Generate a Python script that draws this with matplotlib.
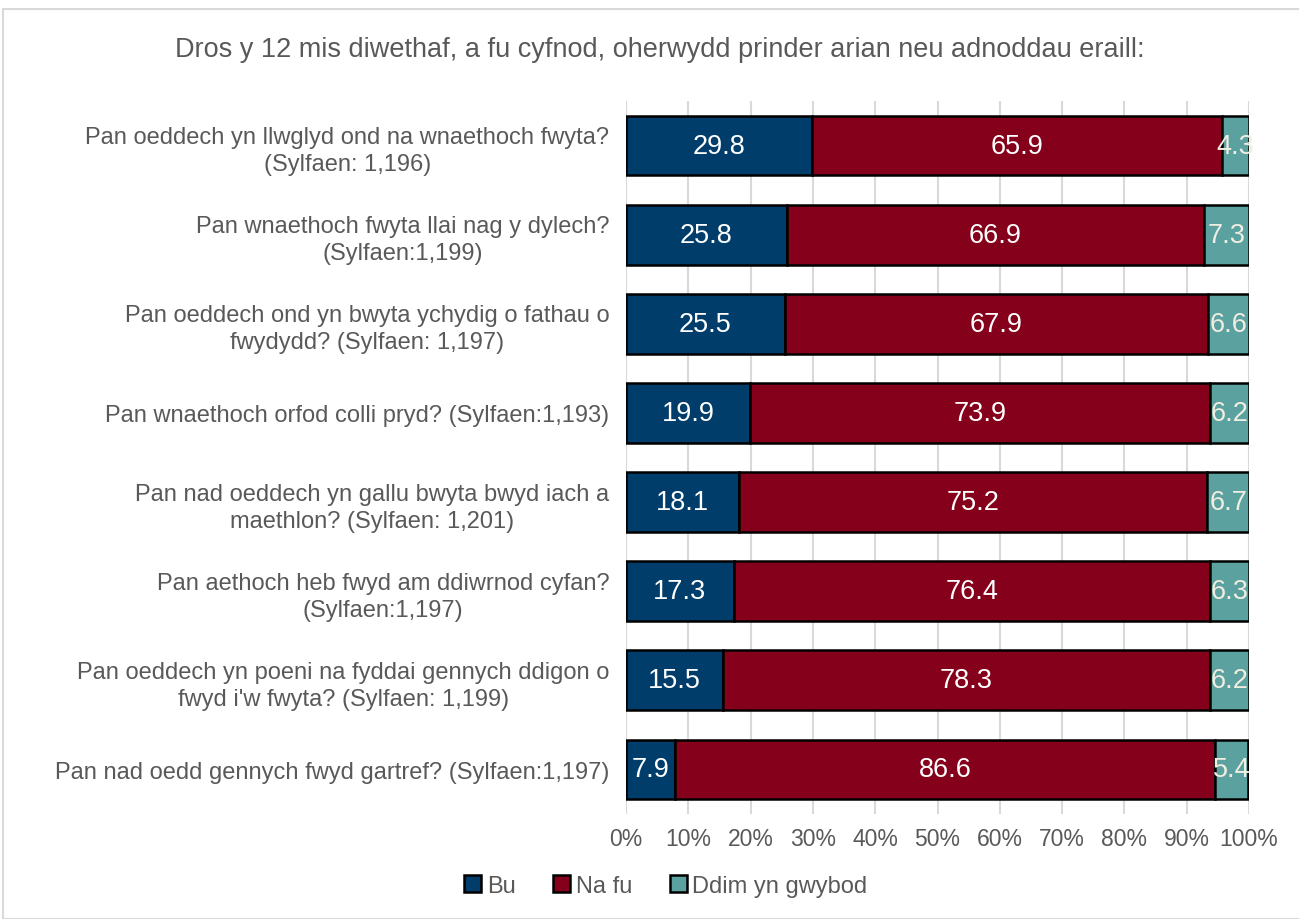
import matplotlib
matplotlib.use("Agg")
import matplotlib.pyplot as plt
from matplotlib.patches import Rectangle
import numpy as np

plt.rcParams['font.family'] = ['Liberation Sans', 'DejaVu Sans']

categories = [
    "Pan oeddech yn llwglyd ond na wnaethoch fwyta?\n(Sylfaen: 1,196)",
    "Pan wnaethoch fwyta llai nag y dylech?\n(Sylfaen:1,199)",
    "Pan oeddech ond yn bwyta ychydig o fathau o\nfwydydd? (Sylfaen: 1,197)",
    "Pan wnaethoch orfod colli pryd? (Sylfaen:1,193)",
    "Pan nad oeddech yn gallu bwyta bwyd iach a\nmaethlon? (Sylfaen: 1,201)",
    "Pan aethoch heb fwyd am ddiwrnod cyfan?\n(Sylfaen:1,197)",
    "Pan oeddech yn poeni na fyddai gennych ddigon o\nfwyd i'w fwyta? (Sylfaen: 1,199)",
    "Pan nad oedd gennych fwyd gartref? (Sylfaen:1,197)",
]
bu = [29.8, 25.8, 25.5, 19.9, 18.1, 17.3, 15.5, 7.9]
na_fu = [65.9, 66.9, 67.9, 73.9, 75.2, 76.4, 78.3, 86.6]
ddim = [4.3, 7.3, 6.6, 6.2, 6.7, 6.3, 6.2, 5.4]
series_names = ["Bu", "Na fu", "Ddim yn gwybod"]
colors = ["#003D6B", "#85001A", "#5AA1A0"]
label_colors = ["white", "white", "#F0EEE0"]
title = "Dros y 12 mis diwethaf, a fu cyfnod, oherwydd prinder arian neu adnoddau eraill:"

W, H = 1299, 920
fig = plt.figure(figsize=(W/100, H/100), dpi=100)
fig.patches.append(Rectangle((3/W, 0), 1, 1 - 10/H, transform=fig.transFigure,
                             fill=False, edgecolor="#D9D9D9", linewidth=1.5))

left, right = 626/W, 1249/W
top, bottom = 1 - 102/H, 1 - 815/H
ax = fig.add_axes([left, bottom, right - left, top - bottom])

y = np.arange(len(categories))
series = [bu, na_fu, ddim]
lefts = np.zeros(len(categories))
for vals, c, lc, name in zip(series, colors, label_colors, series_names):
    vals = np.array(vals)
    bars = ax.barh(y, vals, left=lefts, height=0.67, color=c, edgecolor="black",
                   linewidth=1.8, label=name, zorder=3)
    for b, v, l in zip(bars, vals, lefts):
        ax.text(l + v/2, b.get_y() + b.get_height()/2, f"{v:.1f}",
                ha="center", va="center", color=lc, fontsize=19.5, zorder=4)
    lefts = lefts + vals

ax.set_ylim(len(categories) - 0.5, -0.5)
ax.set_xlim(0, 100)
ax.set_yticks(y)
ax.set_yticklabels(categories, fontsize=17, color="#595959", ha="right",
                   multialignment="center", linespacing=1.3)
ax.set_xticks(np.arange(0, 101, 10))
ax.set_xticklabels([f"{v}%" for v in range(0, 101, 10)], fontsize=16.5, color="#595959")
ax.tick_params(axis="x", length=0, pad=9)
ax.tick_params(axis="y", length=0, pad=12)
ax.grid(axis="x", color="#D9D9D9", linewidth=1.5, zorder=0)
for s in ax.spines.values():
    s.set_visible(False)

fig.text(660/W, 1 - 50/H, title, ha="center", va="center", fontsize=19.5, color="#595959")

leg = fig.legend(loc="center", bbox_to_anchor=(666/W, 1 - 887/H), ncol=3, frameon=False,
                 fontsize=17, handlelength=0.7, handleheight=0.7, handletextpad=0.25,
                 columnspacing=1.6, labelcolor="#595959")

fig.savefig("out.png", dpi=100, facecolor="white")
